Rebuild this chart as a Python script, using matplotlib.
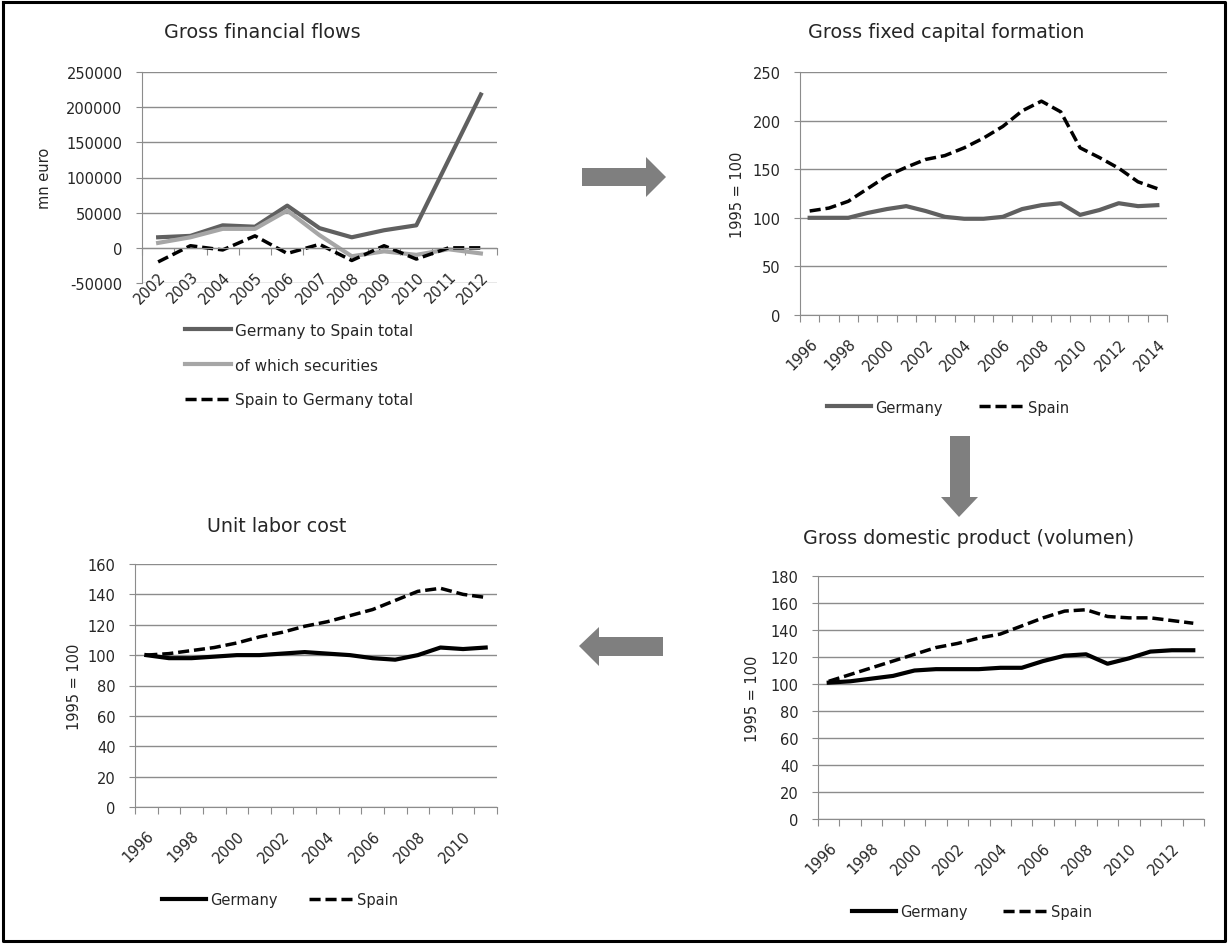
import matplotlib
matplotlib.use("Agg")
from matplotlib import pyplot as plt
from matplotlib.patches import Polygon
from matplotlib.lines import Line2D

plt.rcParams['font.family'] = ['DejaVu Sans']
plt.rcParams['axes.unicode_minus'] = False

# Gross financial flows (mn euro)
flow_years = ['2002', '2003', '2004', '2005', '2006', '2007', '2008', '2009', '2010', '2011', '2012']
de_to_es = [15000, 17000, 32000, 30000, 60000, 28000, 15000, 25000, 32000, 125000, 218000]
securities = [7000, 15000, 27000, 27000, 53000, 18000, -12000, -5000, -10000, -2000, -8000]
es_to_de = [-20000, 3000, -3000, 17000, -8000, 5000, -18000, 3000, -16000, 0, 0]

# Gross fixed capital formation (1995 = 100)
gfcf_years = list(range(1996, 2015))
gfcf_de = [100, 100, 100, 105, 109, 112, 107, 101, 99, 99, 101, 109, 113, 115, 103, 108, 115, 112, 113]
gfcf_es = [107, 110, 117, 130, 143, 152, 160, 164, 172, 182, 194, 210, 220, 209, 172, 162, 151, 137, 130]

# Unit labor cost (1995 = 100)
ulc_years = list(range(1996, 2012))
ulc_de = [100, 98, 98, 99, 100, 100, 101, 102, 101, 100, 98, 97, 100, 105, 104, 105]
ulc_es = [100, 101, 103, 105, 108, 112, 115, 119, 122, 126, 130, 136, 142, 144, 140, 138]

# Gross domestic product volume (1995 = 100)
gdp_years = list(range(1996, 2014))
gdp_de = [101, 102, 104, 106, 110, 111, 111, 111, 112, 112, 117, 121, 122, 115, 119, 124, 125, 125]
gdp_es = [102, 107, 112, 117, 122, 127, 130, 134, 137, 143, 149, 154, 155, 150, 149, 149, 147, 145]

W, H = 1228, 945
fig = plt.figure(figsize=(W / 100, H / 100), dpi=100)

GRID = '#8c8c8c'
DARK = '#606060'
LIGHT = '#a6a6a6'
TXT = '#262626'
FS = 10.5
TFS = 13.8
DASH = (0, (3.2, 1.4))


def px_box(x0, y0, x1, y1):
    # pixel box (top-left origin) -> axes rect
    return [x0 / W, 1 - y1 / H, (x1 - x0) / W, (y1 - y0) / H]


def fx(x):
    return x / W


def fy(y):
    return 1 - y / H


def style_axes(ax, labels, every, ymin, ymax, step, zero_axis=False):
    n = len(labels)
    ax.set_xlim(-0.5, n - 0.5)
    ax.set_ylim(ymin, ymax)
    ax.set_yticks(range(ymin, ymax + 1, step))
    ax.yaxis.grid(True, color=GRID, linewidth=1)
    ax.set_axisbelow(True)
    for s in ['top', 'right']:
        ax.spines[s].set_visible(False)
    ax.spines['left'].set_color(GRID)
    ax.spines['bottom'].set_color(GRID)
    if zero_axis:
        ax.spines['bottom'].set_position(('data', 0))
    # tick marks between categories, labels at centres
    ax.set_xticks([i - 0.5 for i in range(n + 1)])
    ax.set_xticklabels([])
    ax.set_xticks(range(0, n, every), minor=True)
    ax.set_xticklabels([str(labels[i]) for i in range(0, n, every)], minor=True,
                       rotation=45, ha='right', rotation_mode='anchor', fontsize=FS, color=TXT)
    ax.tick_params(axis='x', which='major', length=5, color=GRID, direction='out')
    ax.tick_params(axis='x', which='minor', length=0, pad=15)
    ax.tick_params(axis='y', length=4, color=GRID, labelsize=FS, labelcolor=TXT, pad=10)


def legend(handles, x, y, **kw):
    opts = dict(frameon=False, fontsize=FS, handlelength=3.0, handletextpad=0.3,
                columnspacing=2.1, labelcolor=TXT)
    opts.update(kw)
    fig.legend(handles=handles, bbox_to_anchor=(fx(x), fy(y)), **opts)


# Panel 1 - Gross financial flows
ax1 = fig.add_axes(px_box(142, 73, 497, 284))
x = range(len(flow_years))
ax1.plot(x, de_to_es, color=DARK, lw=3, label='Germany to Spain total')
ax1.plot(x, securities, color=LIGHT, lw=3, label='of which securities')
ax1.plot(x, es_to_de, color='black', lw=2.5, ls=DASH, label='Spain to Germany total')
style_axes(ax1, flow_years, 1, -50000, 250000, 50000, zero_axis=True)
ax1.set_ylabel('mn euro', fontsize=FS, color=TXT)
ax1.yaxis.set_label_coords(-0.254, 0.5)
fig.text(fx(262), fy(33), 'Gross financial flows', ha='center', va='center', fontsize=TFS, color=TXT)
legend(ax1.get_lines(), 171, 310, loc='upper left', labelspacing=1.3, fontsize=11)

# Panel 2 - Gross fixed capital formation
ax2 = fig.add_axes(px_box(800, 73, 1167, 316))
x = range(len(gfcf_years))
l1, = ax2.plot(x, gfcf_de, color=DARK, lw=3, label='Germany')
l2, = ax2.plot(x, gfcf_es, color='black', lw=2.5, ls=DASH, label='Spain')
style_axes(ax2, gfcf_years, 2, 0, 250, 50)
ax2.set_ylabel('1995 = 100', fontsize=FS, color=TXT)
ax2.yaxis.set_label_coords(-0.15, 0.5)
fig.text(fx(946), fy(33), 'Gross fixed capital formation', ha='center', va='center', fontsize=TFS, color=TXT)
legend([l1, l2], 948, 408, loc='center', ncol=2, columnspacing=2.5)

# Panel 3 - Unit labor cost
ax3 = fig.add_axes(px_box(135, 565, 497, 808))
x = range(len(ulc_years))
l1, = ax3.plot(x, ulc_de, color='black', lw=3, label='Germany')
l2, = ax3.plot(x, ulc_es, color='black', lw=2.5, ls=DASH, label='Spain')
style_axes(ax3, ulc_years, 2, 0, 160, 20)
ax3.set_ylabel('1995 = 100', fontsize=FS, color=TXT)
ax3.yaxis.set_label_coords(-0.146, 0.5)
fig.text(fx(277), fy(527), 'Unit labor cost', ha='center', va='center', fontsize=TFS, color=TXT)
legend([l1, l2], 280, 901, loc='center', ncol=2)

# Panel 4 - Gross domestic product
ax4 = fig.add_axes(px_box(818, 577, 1204, 820))
x = range(len(gdp_years))
l1, = ax4.plot(x, gdp_de, color='black', lw=3, label='Germany')
l2, = ax4.plot(x, gdp_es, color='black', lw=2.5, ls=DASH, label='Spain')
style_axes(ax4, gdp_years, 2, 0, 180, 20)
ax4.set_ylabel('1995 = 100', fontsize=FS, color=TXT)
ax4.yaxis.set_label_coords(-0.15, 0.5)
fig.text(fx(969), fy(538), 'Gross domestic product (volumen)', ha='center', va='center', fontsize=TFS, color=TXT)
legend([l1, l2], 972, 913, loc='center', ncol=2, columnspacing=2.4)

# block arrows between the panels (pixel outlines)
ARROW = '#7f7f7f'
right_arrow = [(582, 169), (646, 169), (646, 158), (666, 178), (646, 198), (646, 187), (582, 187)]
down_arrow = [(950, 437), (970, 437), (970, 498), (978, 498), (959, 518), (941, 498), (950, 498)]
left_arrow = [(663, 638), (599, 638), (599, 628), (579, 647), (599, 667), (599, 657), (663, 657)]
for pts in [right_arrow, down_arrow, left_arrow]:
    fig.patches.append(Polygon([(fx(a), fy(b)) for a, b in pts], closed=True,
                               transform=fig.transFigure, facecolor=ARROW, edgecolor='none'))

# outer frame
fx0, fx1, fy0, fy1 = fx(3), fx(1225), fy(3), fy(942)
fig.lines.append(Line2D([fx0, fx1, fx1, fx0, fx0], [fy0, fy0, fy1, fy1, fy0],
                        transform=fig.transFigure, color='black', lw=2.2))

fig.savefig('out.png', dpi=100)
